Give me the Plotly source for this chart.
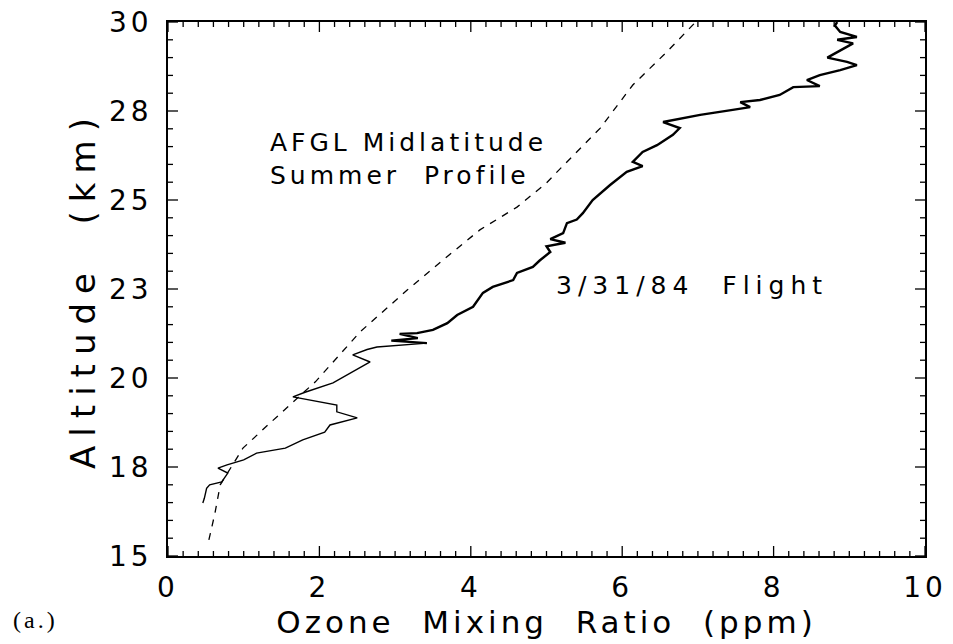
import plotly.graph_objects as go

# Flight profile (3/31/84)
ozone_flight = [0.46, 0.48, 0.51, 0.55, 0.71, 0.79, 0.66, 0.78, 1.00, 1.17, 1.55, 1.78, 2.07, 2.14,
                2.50, 2.23, 2.23, 1.65, 1.81, 2.18, 2.67, 2.44, 2.63, 2.76,
                3.42, 2.95, 3.30, 3.06, 3.29, 3.50, 3.69, 3.82, 4.03, 4.16, 4.29, 4.56, 4.61, 4.82,
                4.91, 5.05, 5.00, 5.25, 5.05, 5.22, 5.27, 5.40, 5.48, 5.61, 5.84, 6.06, 6.27, 6.14,
                6.27, 6.46, 6.67, 6.76, 6.54, 7.03, 7.46, 7.69, 7.56, 7.82, 8.08, 8.26, 8.61, 8.44,
                8.61, 8.88, 9.10, 8.97, 8.71, 8.88, 9.05, 8.84, 9.10, 8.88, 8.81, 8.84]
alt_flight = [16.49, 16.62, 16.90, 17.00, 17.08, 17.33, 17.47, 17.56, 17.70, 17.89, 18.03, 18.26, 18.48, 18.68,
              18.88, 19.05, 19.24, 19.47, 19.60, 19.86, 20.45, 20.65, 20.80, 20.87,
              20.98, 21.05, 21.12, 21.24, 21.26, 21.35, 21.54, 21.77, 22.00, 22.39, 22.56, 22.75, 22.95, 23.12,
              23.30, 23.54, 23.70, 23.80, 23.90, 24.07, 24.35, 24.45, 24.63, 25.00, 25.42, 25.79, 25.95, 26.07,
              26.35, 26.54, 26.83, 27.02, 27.19, 27.39, 27.53, 27.61, 27.75, 27.81, 27.95, 28.17, 28.20, 28.37,
              28.51, 28.65, 28.79, 28.88, 29.00, 29.20, 29.40, 29.50, 29.58, 29.72, 29.90, 30.00]

# AFGL midlatitude summer profile
ozone_afgl = [0.54, 0.62, 0.69, 0.99, 1.35, 1.65, 1.95, 2.54, 3.16, 3.63, 4.12, 4.61, 5.00, 5.14, 5.71, 6.14, 6.59, 6.97]
alt_afgl = [15.45, 16.2, 17.0, 18.03, 18.74, 19.33, 19.9, 21.3, 22.47, 23.31, 24.16, 24.8, 25.48, 25.79, 27.02, 28.23, 29.16, 30.0]

y_tickvals = [15, 17.5, 20, 22.5, 25, 27.5, 30]
y_ticktext = ["15", "18", "20", "23", "25", "28", "30"]
x_tickvals = [0, 2, 4, 6, 8, 10]
x_ticktext = ["0", "2", "4", "6", "8", "10"]
x_minor_vals = [round(0.2 * i, 1) for i in range(51)]
y_minor_vals = [15 + 0.5 * i for i in range(31)]

FONT = "DejaVu Sans"
split = 24  # index where the trace becomes thick

X_RANGE = [0, 10]
Y_RANGE = [15, 30]
W, H = 953, 644
M = dict(l=168, r=28, t=22, b=88)


def spaced(s, px):
    return f'<span style="letter-spacing:{px}px">{s}</span>'


fig = go.Figure()
fig.add_trace(go.Scatter(x=ozone_afgl, y=alt_afgl, mode="lines",
                         line=dict(color="black", width=1.3, dash="7px,7px"), showlegend=False))
fig.add_trace(go.Scatter(x=ozone_flight[:split + 1], y=alt_flight[:split + 1], mode="lines",
                         line=dict(color="black", width=1.4), showlegend=False))
fig.add_trace(go.Scatter(x=ozone_flight[split:], y=alt_flight[split:], mode="lines",
                         line=dict(color="black", width=2.4), showlegend=False))

# inward tick marks on all four sides (lengths converted from pixels to axis units)
x_per_px = (X_RANGE[1] - X_RANGE[0]) / (W - M["l"] - M["r"])
y_per_px = (Y_RANGE[1] - Y_RANGE[0]) / (H - M["t"] - M["b"])


def tick_segments(major_len, minor_len):
    xs, ys = [], []
    for v in x_minor_vals:
        ln = (major_len if v in x_tickvals else minor_len) * y_per_px
        xs += [v, v, None, v, v, None]
        ys += [Y_RANGE[0], Y_RANGE[0] + ln, None, Y_RANGE[1], Y_RANGE[1] - ln, None]
    for v in y_minor_vals:
        ln = (major_len if v in y_tickvals else minor_len) * x_per_px
        xs += [X_RANGE[0], X_RANGE[0] + ln, None, X_RANGE[1], X_RANGE[1] - ln, None]
        ys += [v, v, None, v, v, None]
    return xs, ys


tx, ty = tick_segments(10, 5)
fig.add_trace(go.Scatter(x=tx, y=ty, mode="lines", line=dict(color="black", width=1.3),
                         showlegend=False, hoverinfo="skip", cliponaxis=False))

base = dict(showgrid=False, zeroline=False, automargin=False,
            showline=True, linecolor="black", linewidth=1.5, mirror=True, ticks="",
            tickfont=dict(family=FONT, size=28, color="black"))

fig.update_layout(
    xaxis=dict(range=X_RANGE, tickvals=x_tickvals, ticktext=[spaced(t, 4) for t in x_ticktext],
               ticklabelstandoff=6,
               title=dict(text=spaced("Ozone  Mixing  Ratio  (ppm)", 4),
                          font=dict(family=FONT, size=31, color="black"), standoff=0),
               **base),
    yaxis=dict(range=Y_RANGE, tickvals=y_tickvals, ticktext=[spaced(t, 4) for t in y_ticktext],
               ticklabelstandoff=8,
               title=dict(text=spaced("Altitude  (km)", 9),
                          font=dict(family=FONT, size=34, color="black"), standoff=3),
               **base),
)

fig.add_annotation(x=1.32, y=26.15, xref="x", yref="y",
                   text=spaced("AFGL Midlatitude", 4) + "<br>" + spaced("Summer  Profile", 4),
                   showarrow=False, xanchor="left", yanchor="middle", align="left",
                   font=dict(family=FONT, size=25, color="black"))
fig.add_annotation(x=5.1, y=22.6, xref="x", yref="y", text=spaced("3/31/84  Flight", 6),
                   showarrow=False, xanchor="left", yanchor="middle",
                   font=dict(family=FONT, size=25, color="black"))
fig.add_annotation(xref="paper", yref="paper", x=-0.207, y=-0.12, text=spaced("(a.)", 3), showarrow=False,
                   xanchor="left", yanchor="middle",
                   font=dict(family="Liberation Serif", size=24, color="black"))

fig.update_layout(width=W, height=H, margin=M,
                  plot_bgcolor="white", paper_bgcolor="white")

fig.write_html("out.html")
